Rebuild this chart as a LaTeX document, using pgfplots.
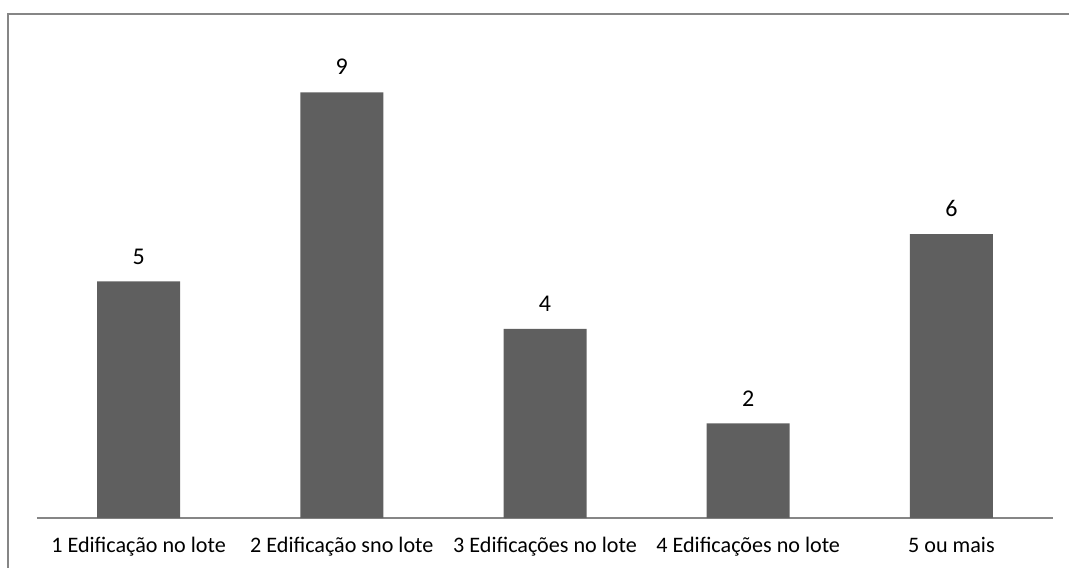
\documentclass[border=0pt]{standalone}
\usepackage{fontspec}
\setmainfont{Carlito}
\usepackage{pgfplots}
\pgfplotsset{compat=1.18}
\definecolor{barc}{HTML}{5F5F5F}
\definecolor{linec}{HTML}{868686}
\begin{document}
\begin{tikzpicture}
\useasboundingbox (0,0) rectangle (801.75pt,425.25pt);
\draw[linec, line width=1.5pt] (6pt,-2pt) -- (6pt,414.75pt) -- (803pt,414.75pt);
\begin{axis}[
  scale only axis,
  width=762pt, height=354.75pt,
  at={(27.75pt,36.75pt)}, anchor=south west,
  xmin=-0.5, xmax=4.5, ymin=0, ymax=10,
  axis x line*=bottom, axis y line=none,
  x axis line style={linec, line width=1.4pt, -},
  major tick length=0pt,
  xtick={0,1,2,3,4},
  xticklabels={1 Edificação no lote,2 Edificação sno lote,3 Edificações no lote,4 Edificações no lote,5 ou mais},
  xticklabel style={anchor=base, yshift=-26pt, inner sep=0pt, font=\fontsize{16.6}{19}\selectfont},
  ytick=\empty,
  /pgf/number format/assume math mode=true,
  ybar, bar width=62.25pt,
  nodes near coords,
  nodes near coords align=vertical,
  every node near coord/.append style={font=\fontsize{18}{21}\selectfont, anchor=base, yshift=13pt, black},
  clip=false,
]
\addplot[fill=barc, draw=none] coordinates {(0,5) (1,9) (2,4) (3,2) (4,6)};
\end{axis}
\end{tikzpicture}
\end{document}
